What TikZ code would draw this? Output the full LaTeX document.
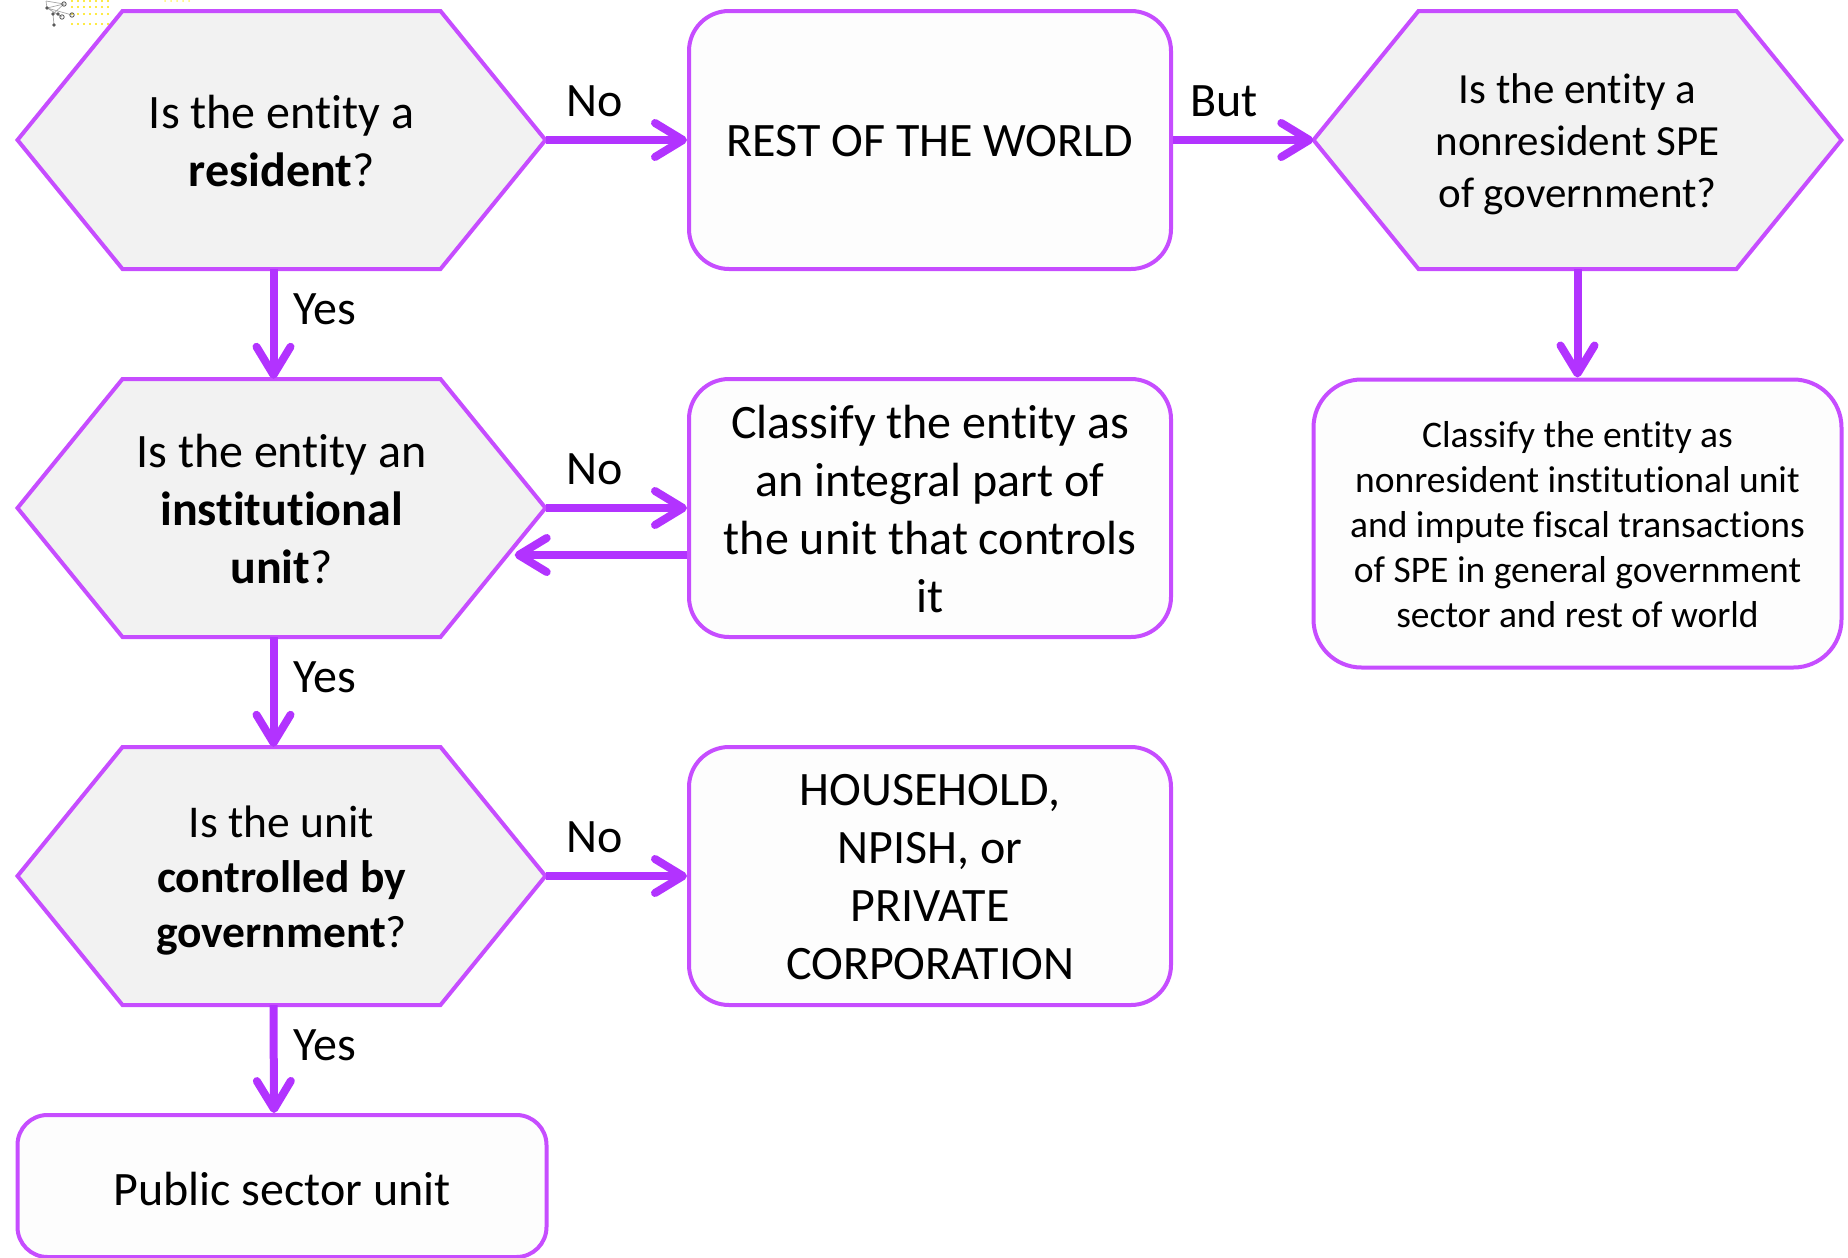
\documentclass[tikz,border=0pt]{standalone}
\usepackage{fontspec}
\setmainfont{Carlito}[Ligatures=NoCommon]
\usetikzlibrary{arrows.meta,calc}
\definecolor{flowline}{HTML}{B233FF}
\definecolor{edge}{HTML}{C64DFF}
\definecolor{hexfill}{HTML}{F2F2F2}
\definecolor{boxfill}{HTML}{FDFDFD}
\tikzset{
  x=1pt,y=-1pt,
  hexshape/.style={draw=edge,line width=4pt,fill=hexfill,line join=miter},
  hextext/.style={inner sep=0pt,minimum width=528pt,minimum height=258pt},
  roundbox/.style={draw=edge,line width=4pt,fill=boxfill,rounded corners=40pt,inner sep=0pt,minimum width=482pt,minimum height=258pt},
  link/.style={draw=flowline,line width=8pt,-{Straight Barb[length=28pt,width=34pt,round]}},
  tag/.style={inner sep=0pt,anchor=base west},
  lab/.style={align=center,inner sep=0pt,yshift=-1pt},
  big/.style={font=\fontsize{48}{58}\selectfont},
  mid/.style={font=\fontsize{45.5}{55}\selectfont},
  small/.style={font=\fontsize{43}{52}\selectfont},
  tiny/.style={font=\fontsize{37.5}{45}\selectfont}
}
% #1 name, #2 cx, #3 cy, #4 style, #5 text
\newcommand{\hexnode}[5]{%
  \draw[hexshape] (#2-264,#3) -- (#2-159,#3-129) -- (#2+159,#3-129) -- (#2+264,#3) -- (#2+159,#3+129) -- (#2-159,#3+129) -- cycle;
  \node[hextext,label={[lab,#4,text depth=0pt]center:{#5}}] (#1) at (#2,#3) {};
}
\begin{document}
\begin{tikzpicture}
\useasboundingbox (0,0) rectangle (1848,1258);
\begin{scope}
\clip (0,0) rectangle (1848,1258);
% faint artefact at the top left
\foreach \py in {1,7,14,24}
  \foreach \px in {72,78,...,108}
    \fill[yellow!85!orange] (\px,\py) circle (1.1pt);
\foreach \px in {165,171,...,189}
  \fill[yellow!60!white] (\px,1) circle (1pt);
\draw[gray!70,line width=0.7pt] (46,1)--(64,4)--(47,8)--(46,1) (47,8)--(72,15) (47,8)--(62,17) (53,14)--(54,25) (64,4)--(53,14);
\foreach \px/\py in {47/8,53/14,54/25,58/14}
  \fill[black!65] (\px,\py) circle (1.8pt);
\foreach \px/\py in {64/4,62/17,72/15}
  \draw[black!65,line width=0.8pt] (\px,\py) circle (2.2pt);

\hexnode{h1}{281.5}{140}{big}{Is the entity a\\\textbf{resident}?}
\hexnode{h2}{281.5}{508}{big}{Is the entity an\\\textbf{institutional}\\\textbf{unit}?}
\hexnode{h3}{281.5}{876}{mid}{Is the unit\\\textbf{controlled by}\\\textbf{government}?}
\hexnode{h4}{1577.5}{140}{small}{Is the entity a\\nonresident SPE\\of government?}

\node[roundbox,label={[lab,big]center:{REST OF THE WORLD}}] (r1) at (930,140) {};
\node[roundbox,label={[lab,big]center:{Classify the entity as\\an integral part of\\the unit that controls\\it}}] (r2) at (930,508) {};
\node[roundbox,label={[lab,big]center:{HOUSEHOLD,\\NPISH, or\\PRIVATE\\CORPORATION}}] (r3) at (930,876) {};
\node[roundbox,minimum width=528pt,minimum height=288pt,rounded corners=48pt,label={[lab,tiny,yshift=-0.5pt]center:{Classify the entity as\\nonresident institutional unit\\and impute fiscal transactions\\of SPE in general government\\sector and rest of world}}] (r4) at (1577.5,523.5) {};
\node[roundbox,minimum width=529pt,minimum height=142pt,rounded corners=30pt,label={[lab,big,yshift=-2pt]center:{Public sector unit}}] (r5) at (282,1186) {};

\draw[link] (h1.east) -- (r1.west);
\draw[link] (r1.east) -- (h4.west);
\draw[link] ([xshift=-8pt]h1.south) -- ([xshift=-8pt]h2.north);
\draw[link] ([xshift=-8pt]h2.south) -- ([xshift=-8pt]h3.north);
\draw[link] ([xshift=-8pt]h3.south) -- ([xshift=-8pt]r5.north);
\draw[link] (h4.south) -- (r4.north);
\draw[link] (h2.east) -- (r2.west);
\draw[link] ([yshift=-47pt]r2.west) -- ([yshift=-47pt,xshift=-31pt]h2.east);
\draw[link] (h3.east) -- (r3.west);

\node[tag,big] (t1) at (566,116) {No};
\node[tag,big] (t2) at (566,484) {No};
\node[tag,big] (t3) at (566,852) {No};
\node[tag,big] (t4) at (1190,116) {But};
\node[tag,big] (t5) at (293,324) {Yes};
\node[tag,big] (t6) at (293,692) {Yes};
\node[tag,big] (t7) at (293,1060) {Yes};
\end{scope}
\end{tikzpicture}
\end{document}
